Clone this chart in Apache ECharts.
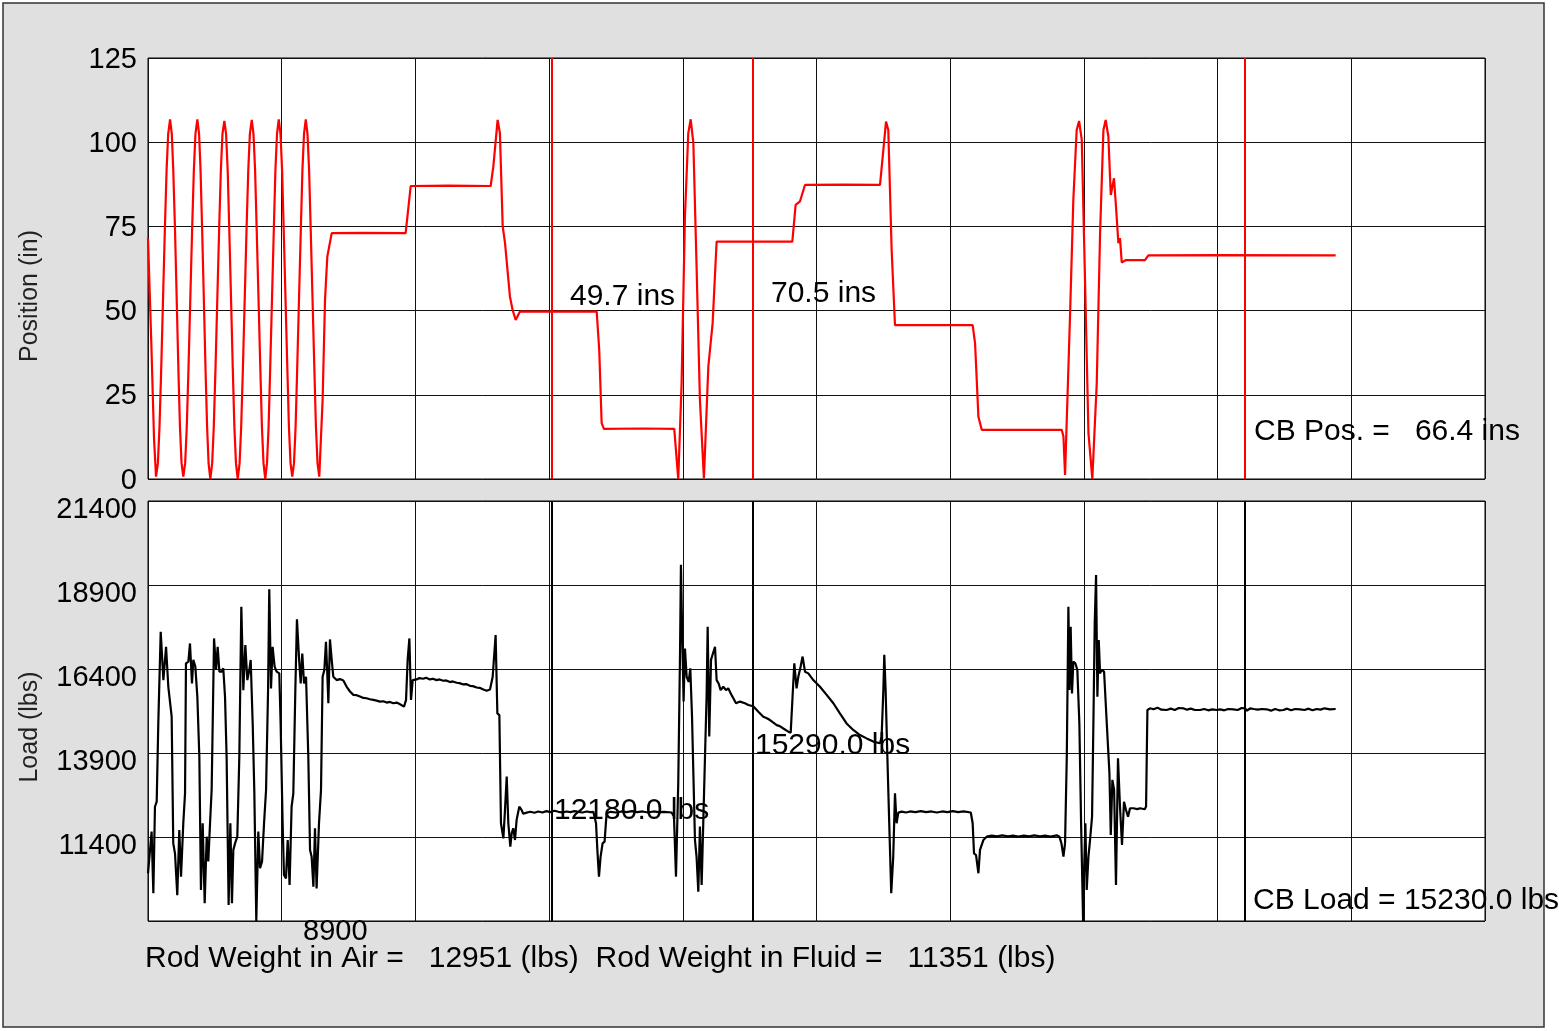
<!DOCTYPE html>
<html><head><meta charset="utf-8">
<script src="https://cdn.jsdelivr.net/npm/echarts@6/dist/echarts.min.js"></script>
<style>html,body{margin:0;padding:0;background:#fff}#chart{width:1559px;height:1031px}</style>
</head><body><div id="chart"></div>
<script>
// ---- data ----
const positionTickValues = [0, 25, 50, 75, 100, 125];
const loadGridValues = [8900, 11400, 13900, 16400, 18900, 21400];
const loadLabelValues = [11400, 13900, 16400, 18900, 21400];
const loadMinLabel = '8900';
const cursorTimes = [302.2, 452.5, 820.5];
const cursorPositions = ['49.7 ins', '70.5 ins'];
const cursorLoads = ['12180.0 lbs', '15290.0 lbs'];
const cbPosition = '66.4';
const cbLoad = '15230.0';
const rodWeightAir = 12951;
const rodWeightFluid = 11351;

const positionData = [
[0,71.5],[2.5,40],[4.5,12],[6.0,0.7],
[7.4,4.7],[8.6,15.5],[9.9,33],[11.25,53.6],[12.6,74],[13.9,91.7],[15.1,102.5],[16.5,106.8],
[17.8,102.5],[18.9,91.7],[20.2,74],[21.45,53.6],[22.7,33],[23.9,15.5],[25.1,4.7],[26.4,0.7],
[27.8,4.7],[29.0,15.5],[30.3,33],[31.65,53.6],[33.0,74],[34.3,91.7],[35.5,102.5],[36.9,106.8],
[38.2,102.5],[39.3,91.7],[40.5,74],[41.75,53.6],[43.0,33],[44.2,15.5],[45.3,4.7],[46.6,0],
[48.0,4.7],[49.2,15.5],[50.5,33],[51.85,53.6],[53.2,74],[54.5,91.7],[55.7,102.5],[57.1,106.3],
[58.4,102.5],[59.6,91.7],[60.8,74],[62.1,53.6],[63.4,33],[64.6,15.5],[65.8,4.7],[67.1,0],
[68.5,4.7],[69.7,15.5],[71.0,33],[72.35,53.6],[73.7,74],[75.0,91.7],[76.2,102.5],[77.6,106.6],
[78.9,102.5],[80.1,91.7],[81.3,74],[82.65,53.6],[84.0,33],[85.2,15.5],[86.4,4.7],[87.7,0],
[89.0,4.7],[90.2,15.5],[91.4,33],[92.75,53.6],[94.1,74],[95.3,91.7],[96.5,102.5],[97.8,106.8],
[99.1,102.5],[100.3,91.7],[101.5,74],[102.85,53.6],[104.2,33],[105.4,15.5],[106.6,4.7],[107.9,0.7],
[109.2,4.7],[110.4,15.5],[111.6,33],[112.95,53.6],[114.3,74],[115.5,91.7],[116.7,102.5],[118.0,106.8],
[119.3,102.5],[120.5,91.7],[121.7,74],[123.05,53.6],[124.4,33],[125.6,15.5],[126.8,4.7],[128.1,0.7],
[130.6,23.5],[132.4,53.2],[134.1,66],[137.4,73],[160,73.1],[192.7,73],
[196.5,87],[225,87.1],[256.3,87],
[258.3,92.8],[261.5,106.6],[263.2,102.7],[265.3,75],[267.0,70.2],[268.2,70.2],[270.7,54.2],[272.7,50.2],[275.0,47.2],[278.2,49.7],
[300,49.7],[335.6,49.7],[337.5,38.3],[339.3,16.6],[341.0,14.9],[370,15.0],[393.6,14.9],[396.6,0],
[399.1,28.4],[401.6,77.9],[404.1,102.7],[405.9,106.8],[407.9,99.7],[410.3,63.1],[412.8,23.5],[415.8,0.2],
[419.1,33.4],[422.3,46.2],[425.3,70.5],[450,70.5],[481.9,70.5],[484.4,81.4],[487.6,82.4],[491.4,87.3],[520,87.4],[547.5,87.3],
[550.0,97.7],[552.0,106.1],[553.7,103.6],[556.2,68.0],[558.7,45.7],[590,45.7],[616.8,45.7],
[618.6,40.3],[621.1,18.5],[623.6,14.6],[650,14.6],[683.4,14.6],[684.7,12.6],[685.9,1.2],
[689.6,48.2],[692.1,82.9],[694.6,103.6],[696.4,106.3],[698.4,100.7],[700.9,58.1],[703.4,13.6],[706.3,0],
[709.6,28.4],[712.1,73.0],[714.6,103.6],[716.3,106.6],[718.3,101.7],[720.1,84.3],[722.5,89.3],[724.0,80.9],[725.8,70.0],[727.0,71.5],[728.3,64.3],[731.5,65.0],[745.7,65.0],[748.2,66.4],[800,66.5],[888.3,66.4]
];

const loadData = [
[0.0,10320],[1.0,10370],[2.7,11560],[4.0,9730],[5.2,12300],[6.5,12450],[7.7,14780],[9.5,17510],[11.5,16070],[13.5,17060],[15.2,15870],[16.5,15920],[17.7,14980],[18.9,11210],[20.2,10910],[21.9,9670],[23.4,11610],[24.7,10220],[26.4,11810],[27.7,12700],[28.4,16570],[30.2,16620],[31.4,17160],[32.9,15970],[33.9,16670],[35.4,16470],[36.9,15580],[38.4,13790],[39.6,9820],[40.9,11810],[42.4,9430],[43.9,11410],[45.1,10670],[46.4,11810],[47.6,12800],[49.4,17310],[50.9,16370],[52.1,17060],[53.4,16320],[55.1,16320],[56.3,16420],[57.6,15580],[58.8,13790],[60.3,9380],[61.6,11810],[62.8,9430],[63.8,11010],[65.1,11210],[66.8,11410],[68.3,13790],[69.8,18250],[71.3,15770],[72.8,17110],[74.3,16070],[75.8,16370],[76.8,16670],[78.3,14780],[79.5,12800],[81.0,8900],[82.5,11560],[83.8,10470],[85.3,10670],[86.8,11810],[88.3,12800],[89.8,15770],[90.7,18770],[92.0,15820],[93.2,17060],[94.7,16470],[96.2,16320],[98.2,16270],[99.2,14780],[100.7,11810],[101.7,10270],[103.2,10170],[104.5,11310],[105.9,9970],[107.4,12300],[108.7,12700],[110.2,15770],[111.4,17880],[112.9,16770],[114.2,15970],[115.4,16860],[116.7,15970],[118.2,16170],[119.9,13790],[121.2,11010],[122.4,10810],[123.7,9920],[124.9,11660],[126.1,9870],[127.9,11810],[129.4,12800],[130.6,16170],[131.9,16370],[133.1,17210],[134.1,16270],[134.9,15380],[136.1,17280],[137.4,16670],[138.6,16170],[141.1,16070],[143.6,16100],[146.1,16060],[148.6,15870],[151.1,15730],[153.6,15630],[156,15620],[158.6,15580],[161,15540],[163.5,15530],[166,15500],[168.5,15480],[171,15460],[173.5,15430],[176,15440],[178.5,15400],[181,15420],[183.5,15380],[186,15400],[188.5,15350],[191.5,15280],[193.0,15480],[194.2,16670],[195.5,17310],[196.7,15480],[198.0,16070],[200.9,16090],[203,16130],[205.9,16110],[208,16140],[210.9,16090],[213,16110],[215.9,16070],[218,16090],[220.9,16050],[223,16060],[225.9,16010],[228,16030],[230.9,15990],[233,15980],[235.8,15940],[238,15950],[240.8,15900],[243,15890],[245.8,15850],[248,15840],[250.8,15790],[253.3,15755],[255.8,15790],[257.8,16170],[260.0,17410],[261.3,15080],[262.8,15030],[264.0,11810],[265.8,11360],[267.0,12200],[268.3,13200],[269.5,11810],[271.0,11110],[272.0,11510],[273.2,11660],[274.5,11310],[275.7,11910],[277.7,12300],[279.5,12200],[280.7,12090],[283.2,12125],
[286,12150],[289,12120],[292,12160],[295,12130],[298,12170],[301,12140],[304,12180],[307,12150],[310,12130],[313,12160],[316,12140],[319,12170],[322,12150],[325,12130],[328,12160],[331,12140],[333.1,12150],
[335.1,11810],[336.1,11010],[337.3,10220],[338.5,10810],[340.0,11210],[341.5,11260],[343.0,12105],[346,12150],[350,12130],[354,12160],[358,12140],[362,12170],[366,12140],[370,12160],[374,12130],[378,12160],[382,12140],[386,12150],[391.6,12130],[393.4,12010],[394.9,10220],[396.6,12990],[397.9,16770],[398.6,19500],[399.6,17360],[400.6,15430],[401.6,17010],[402.9,16170],[404.4,16020],[405.6,16420],[406.9,14980],[407.9,13300],[409.1,11310],[410.3,10810],[411.6,9770],[412.8,11710],[414.1,9970],[415.3,11810],[416.6,13790],[417.8,15580],[418.6,17660],[419.8,14390],[421.1,16670],[422.6,16870],[424.1,17060],[425.3,16070],[426.8,15970],[428.3,15770],[430.3,15870],[432.3,15770],[434.0,15825],[435.8,15675],[437.8,15530],[439.8,15380],[442.8,15430],[446.5,15380],[449.0,15330],[452.7,15290],[456.5,15130],[460.2,14980],[462.5,14940],[465.2,14880],[467.5,14810],[470.2,14730],[472.5,14700],[475.2,14630],[478.9,14535],[480.7,14505],[482.1,15580],[483.4,16570],[485.1,15825],[486.4,16170],[488.1,16470],[489.6,16770],[491.4,16320],[493.9,16270],[497.6,16070],[502.6,15870],[507.6,15630],[512.6,15380],[517.5,15080],[522.5,14780],[527.5,14585],[532.5,14435],[537.5,14335],[542.5,14240],[547.5,14190],[548.7,14385],[550.0,15775],[550.7,16820],[551.7,15775],[553.0,13790],[554.4,11810],[555.9,9725],[557.4,10815],[558.7,12700],[559.9,11810],[561.2,12125],[563.7,12155],[567,12130],[570,12160],[574,12140],[578,12170],[582,12140],[586,12160],[590,12130],[594,12160],[598,12140],[602,12170],[606,12140],[610,12160],[615.4,12130],[616.8,11810],[617.8,10915],[619.3,10865],[621.1,10320],[622.3,11015],[624.8,11310],[627.3,11410],[631,11440],[635,11420],[639,11450],[643,11420],[647,11440],[651,11410],[655,11440],[659,11420],[663,11450],[667,11420],[671,11440],[675,11410],[679.7,11450],[681.7,11410],[683.2,11210],[684.7,10815],[685.9,11210],[687.2,13790],[688.4,18255],[689.2,15775],[690.1,17660],[691.1,15675],[692.1,16620],[693.6,16570],[695.1,16370],[696.6,14785],[697.9,11810],[699.4,8900],[700.1,10320],[701.1,11810],[702.1,9825],[703.4,10815],[704.6,11310],[706.1,12005],[707.1,14785],[708.1,17760],[709.1,19200],[710.1,15575],[711.1,17265],[712.1,16270],[713.3,16370],[715.1,16320],[717.1,14785],[719.1,13295],[720.1,11460],[721.3,13100],[722.6,12800],[724.0,9970],[725.5,13740],[727.0,12300],[728.5,11160],[730.0,12450],[731.5,12205],[733.0,12005],[734.5,12255],[737.0,12255],[740,12230],[742.0,12255],[745.5,12225],[746.5,12305],[747.5,15180],[749.5,15230],
[752,15200],[755,15250],[758,15190],[761.9,15180],[765,15220],[768,15180],[771,15240],[774.4,15230],[777,15190],[780,15220],[783,15180],[786.9,15180],[790,15210],[793,15170],[796,15200],[799.3,15180],[802,15200],[805,15170],[808,15210],[811.8,15200],[815,15180],[818,15240],[820.5,15230],[822,15160],[824.3,15230],[827,15210],[830,15190],[833,15210],[836.7,15200],[840,15160],[843,15210],[846,15170],[849.2,15180],[852,15220],[855,15170],[858,15210],[861.7,15200],[865,15180],[868,15220],[871,15170],[874.1,15210],[877,15190],[880,15230],[884,15200],[888.3,15210]
];

// ---- chart ----
const FONT = '"Liberation Sans", Arial, sans-serif';
const chart = echarts.init(document.getElementById('chart'), null, {renderer: 'canvas'});

function txt(text, x, y, size) {
  return {type: 'text', x: x, y: y, z: 100,
    style: {text: text, fill: '#000', font: size + 'px ' + FONT, align: 'left', verticalAlign: 'middle'}};
}
function vtxt(text, x, y, size) {
  return {type: 'text', x: x, y: y, z: 100, rotation: Math.PI / 2,
    style: {text: text, fill: '#222', font: size + 'px ' + FONT, align: 'center', verticalAlign: 'middle'}};
}

const xAxisCommon = {
  type: 'value', min: 0, max: 1000, interval: 100,
  axisLine: {show: false}, axisTick: {show: false}, axisLabel: {show: false},
  splitLine: {show: true, lineStyle: {color: '#111', width: 1}}
};

const option = {
  backgroundColor: '#fff',
  animation: false,
  grid: [
    {left: 148, top: 58, width: 1337, height: 421, show: true, backgroundColor: '#fff', borderColor: '#000', borderWidth: 1},
    {left: 148, top: 501, width: 1337, height: 420, show: true, backgroundColor: '#fff', borderColor: '#000', borderWidth: 1}
  ],
  xAxis: [Object.assign({gridIndex: 0}, xAxisCommon), Object.assign({gridIndex: 1}, xAxisCommon)],
  yAxis: [
    {gridIndex: 0, type: 'value', min: positionTickValues[0], max: positionTickValues[positionTickValues.length - 1], interval: 25,
     axisLine: {show: false}, axisTick: {show: false},
     axisLabel: {fontSize: 29, color: '#000', fontFamily: FONT, margin: 11,
                 verticalAlign: 'top', lineHeight: 3, formatter: v => String(v)},
     splitLine: {show: true, lineStyle: {color: '#111', width: 1}}},
    {gridIndex: 1, type: 'value', min: loadGridValues[0], max: loadGridValues[loadGridValues.length - 1],
     axisLine: {show: false},
     axisTick: {show: false, customValues: loadGridValues},
     axisLabel: {fontSize: 29, color: '#000', fontFamily: FONT, margin: 11, customValues: loadLabelValues,
                 verticalAlign: 'top', lineHeight: 17, formatter: v => String(v)},
     splitLine: {show: true, lineStyle: {color: '#111', width: 1}}}
  ],
  graphic: [
    {type: 'rect', z: -100, shape: {x: 3, y: 3, width: 1541, height: 1024},
     style: {fill: '#e0e0e0', stroke: '#333', lineWidth: 1.5}},
    vtxt('Position (in)', 30, 296, 25),
    vtxt('Load (lbs)', 30, 727, 25),
    txt(cursorPositions[0], 570, 297, 30),
    txt(cursorPositions[1], 771, 294, 30),
    txt('CB Pos. =   ' + cbPosition + ' ins', 1254, 432, 30),
    txt(cursorLoads[0], 554, 811, 30),
    txt(cursorLoads[1], 755, 746, 30),
    txt('CB Load = ' + cbLoad + ' lbs', 1253, 901, 30),
    txt(loadMinLabel, 303, 932, 29),
    txt('Rod Weight in Air =   ' + rodWeightAir + ' (lbs)  Rod Weight in Fluid =   ' + rodWeightFluid + ' (lbs)', 145, 959, 30)
  ],
  series: [
    {type: 'line', xAxisIndex: 0, yAxisIndex: 0, data: positionData, showSymbol: false, z: 5,
     lineStyle: {color: '#ff0000', width: 2.2}, itemStyle: {color: '#ff0000'},
     markLine: {silent: true, symbol: 'none', label: {show: false},
       lineStyle: {color: '#ff0000', width: 2, type: 'solid'},
       data: cursorTimes.map(t => ({xAxis: t}))}},
    {type: 'line', xAxisIndex: 1, yAxisIndex: 1, data: loadData, showSymbol: false, z: 5,
     lineStyle: {color: '#000', width: 2.2}, itemStyle: {color: '#000'},
     markLine: {silent: true, symbol: 'none', label: {show: false},
       lineStyle: {color: '#000', width: 2, type: 'solid'},
       data: cursorTimes.map(t => ({xAxis: t}))}}
  ]
};
chart.setOption(option);
</script></body></html>
